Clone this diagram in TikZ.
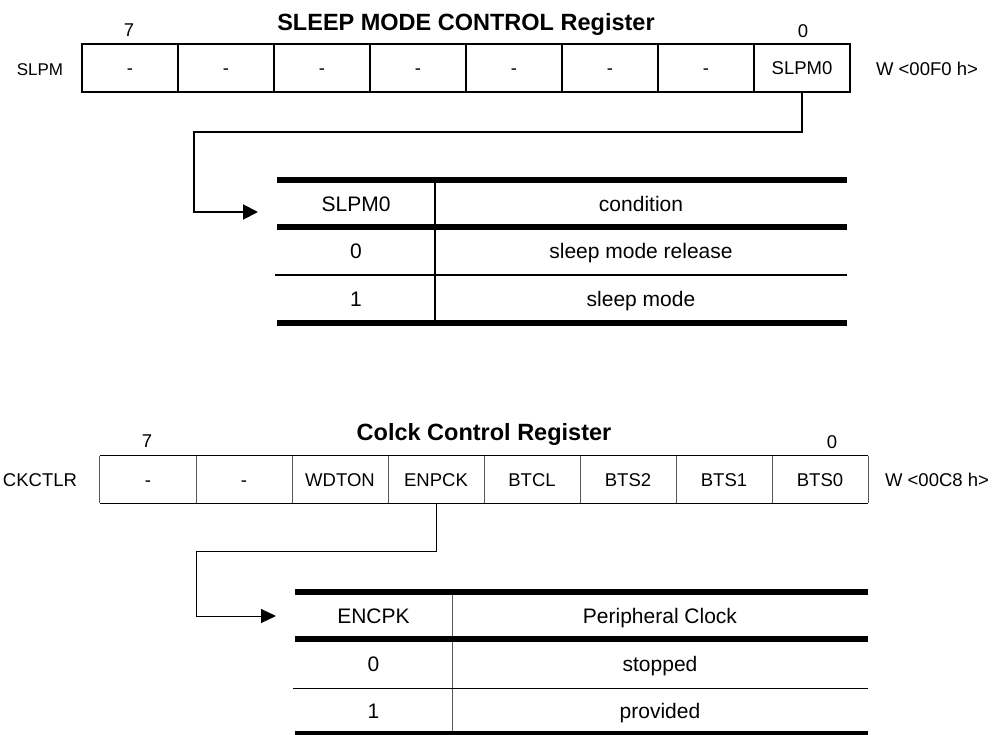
\documentclass[tikz,border=0pt]{standalone}
\usepackage{fontspec}
\setmainfont{Liberation Sans}
\usetikzlibrary{arrows.meta}
\begin{document}
\begin{tikzpicture}[x=1pt,y=-1pt,
  every node/.style={inner sep=0pt, text depth=0pt, anchor=center},
  regtext/.style={font=\fontsize{18.5}{20}\selectfont, text height=13.25pt},
  lbltext/.style={font=\fontsize{17}{19}\selectfont, text height=12.17pt},
  regcell/.style={regtext, minimum width=96pt},
  tabcell/.style={font=\fontsize{21}{24}\selectfont, text height=15.04pt},
  titletext/.style={font=\fontsize{23.5}{26}\selectfont\bfseries, text height=16.83pt},
  reg1line/.style={line width=2pt, black},
  reg2line/.style={line width=1pt, black},
  reg2vline/.style={line width=1pt, black!65},
  thickrule/.style={line width=5.5pt, black},
  thinrule/.style={line width=1.6pt, black},
  thinrule2/.style={line width=1pt, black},
  conn1/.style={line width=2pt, black, -{Triangle[length=15pt,width=15pt]}},
  conn2/.style={line width=1pt, black, -{Triangle[length=15pt,width=14pt]}}
]
\useasboundingbox (0,0) rectangle (1002,735);

% ---------- Register 1 ----------
\node[titletext] (title1) at (466,22) {SLEEP MODE CONTROL Register};
\node[regtext] (b7a) at (129,30) {7};
\node[regtext] (b0a) at (803,31) {0};
\node[lbltext] (slpm) at (40,69) {SLPM};
\node[regtext] (w1) at (927,69) {W <00F0 h>};
\foreach \t [count=\i from 0] in {-,-,-,-,-,-,-,SLPM0}
  \node[regcell, minimum height=48pt] (r1-\i) at ({130+96*\i},68) {\t};
\draw[reg1line] (r1-0.north west) rectangle (r1-7.south east);
\foreach \i in {0,...,6}
  \draw[reg1line] (r1-\i.north east) -- (r1-\i.south east);

% ---------- Table 1 ----------
\node[tabcell, minimum width=158pt, minimum height=47pt] (t1h1) at (356,203.5) {SLPM0};
\node[tabcell, minimum width=412pt, minimum height=47pt] (t1h2) at (641,203.5) {condition};
\node[tabcell, minimum width=158pt, minimum height=48pt] (t1a1) at (356,251) {0};
\node[tabcell, minimum width=412pt, minimum height=48pt] (t1a2) at (641,251) {sleep mode release};
\node[tabcell, minimum width=158pt, minimum height=48pt] (t1b1) at (356,299) {1};
\node[tabcell, minimum width=412pt, minimum height=48pt] (t1b2) at (641,299) {sleep mode};
\draw[thinrule] (t1h1.north east) -- (t1b1.south east);
\draw[thickrule] (t1h1.north west) -- (t1h2.north east);
\draw[thickrule] (t1h1.south west) -- (t1h2.south east);
\draw[thinrule] ([xshift=-2pt]t1a1.south west) -- (t1a2.south east);
\draw[thickrule] (t1b1.south west) -- (t1b2.south east);

% connector 1
\coordinate (k1) at (194,132);
\coordinate (a1) at (258,212);
\draw[conn1] (r1-7.south) |- (k1) |- (a1);

% ---------- Register 2 ----------
\node[titletext] (title2) at (484,432) {Colck Control Register};
\node[regtext] (b7b) at (147,441) {7};
\node[regtext] (b0b) at (832,442) {0};
\node[regtext] (ckctlr) at (40,480) {CKCTLR};
\node[regtext] (w2) at (937,480) {W <00C8 h>};
\foreach \t [count=\i from 0] in {-,-,WDTON,ENPCK,BTCL,BTS2,BTS1,BTS0}
  \node[regcell, minimum height=47pt] (r2-\i) at ({148+96*\i},479.5) {\t};
\draw[reg2line] (r2-0.north west) -- (r2-7.north east);
\draw[reg2line] (r2-0.south west) -- (r2-7.south east);
\draw[reg2vline] (r2-0.north west) -- (r2-0.south west);
\foreach \i in {0,...,7}
  \draw[reg2vline] (r2-\i.north east) -- (r2-\i.south east);

% ---------- Table 2 ----------
\node[tabcell, minimum width=157pt, minimum height=47pt] (t2h1) at (373.5,615.5) {ENCPK};
\node[tabcell, minimum width=416pt, minimum height=47pt] (t2h2) at (660,615.5) {Peripheral Clock};
\node[tabcell, minimum width=157pt, minimum height=49pt] (t2a1) at (373.5,663.5) {0};
\node[tabcell, minimum width=416pt, minimum height=49pt] (t2a2) at (660,663.5) {stopped};
\node[tabcell, minimum width=157pt, minimum height=45pt] (t2b1) at (373.5,710.5) {1};
\node[tabcell, minimum width=416pt, minimum height=45pt] (t2b2) at (660,710.5) {provided};
\draw[reg2vline] (t2h1.north east) -- (t2b1.south east);
\draw[thickrule] (t2h1.north west) -- (t2h2.north east);
\draw[thickrule] (t2h1.south west) -- (t2h2.south east);
\draw[thinrule2] ([xshift=-2pt]t2a1.south west) -- (t2a2.south east);
\draw[line width=4pt] (t2b1.south west) -- (t2b2.south east);

% connector 2
\coordinate (k2) at (196,551);
\coordinate (a2) at (276,616);
\draw[conn2] (r2-3.south) |- (k2) |- (a2);
\end{tikzpicture}
\end{document}
